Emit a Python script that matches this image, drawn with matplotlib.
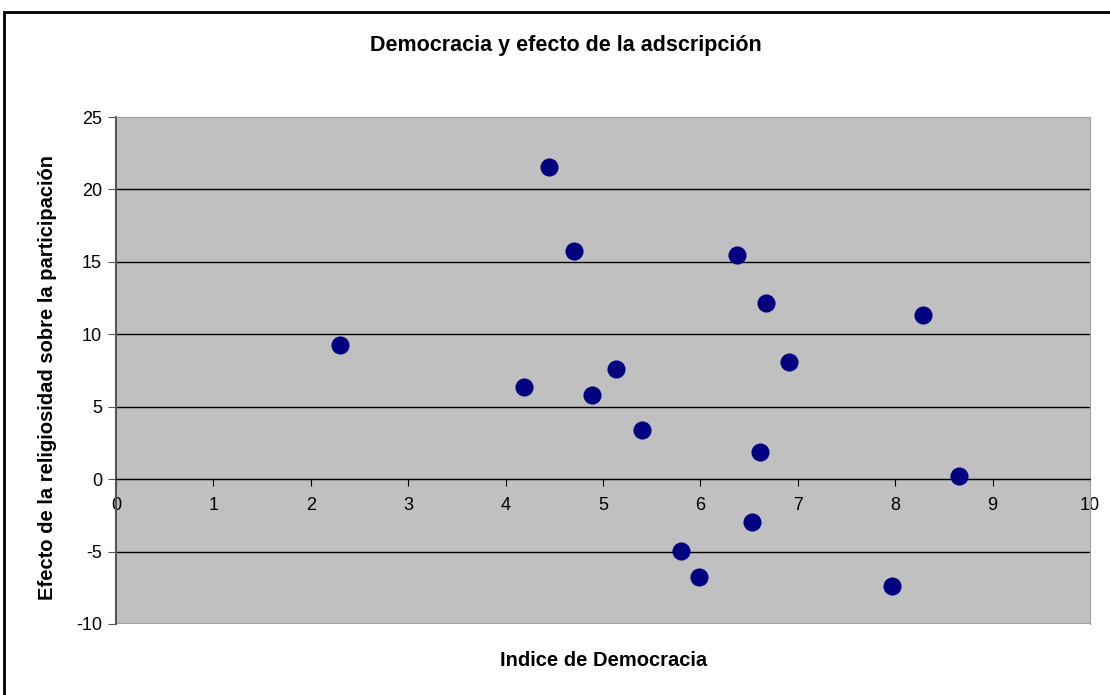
import matplotlib.pyplot as plt
from matplotlib.patches import Rectangle

# Indice de Democracia vs efecto de la religiosidad
democracia = [2.30, 4.19, 4.45, 4.70, 4.89, 5.13, 5.40, 5.80, 5.99,
              6.38, 6.53, 6.61, 6.67, 6.91, 7.97, 8.29, 8.65]
efecto = [9.25, 6.33, 21.58, 15.74, 5.82, 7.6, 3.40, -4.97, -6.75,
          15.48, -2.95, 1.86, 12.17, 8.12, -7.4, 11.3, 0.25]

x_ticks = list(range(0, 11))
y_ticks = [-10, -5, 0, 5, 10, 15, 20, 25]

plt.rcParams['font.family'] = ['Liberation Sans', 'DejaVu Sans']
plt.rcParams['axes.unicode_minus'] = False

fig = plt.figure(figsize=(11.1, 6.95), dpi=100)
ax = fig.add_axes([116 / 1110, 1 - 624 / 695, 974 / 1110, 507 / 695])

# outer chart border
fig.patches.append(Rectangle((4 / 1110, -0.01), 1.02, 1 - 12 / 695 + 0.01,
                             transform=fig.transFigure, fill=False,
                             edgecolor='black', linewidth=2))

ax.set_facecolor('#C0C0C0')
ax.set_xlim(0, 10)
ax.set_ylim(-10, 25)
ax.set_xticks(x_ticks)
ax.set_yticks(y_ticks)

# horizontal gridlines
for yv in y_ticks[1:-1]:
    ax.axhline(yv, color='black', linewidth=1, zorder=1)

ax.scatter(democracia, efecto, s=170, color='#000080', zorder=3, linewidths=0)

ax.spines['bottom'].set_position(('data', 0))
ax.spines['bottom'].set_color('black')
ax.spines['left'].set_color('#555555')
ax.spines['left'].set_linewidth(1.5)
ax.spines['top'].set_color('#A0A0A0')
ax.spines['right'].set_color('#A0A0A0')

# plot area bottom edge
ax.axhline(-10, color='#A0A0A0', linewidth=1.5, zorder=1)

ax.tick_params(axis='x', direction='out', length=5, pad=8, labelsize=13,
               color='black')
ax.tick_params(axis='y', direction='out', length=6, pad=4, labelsize=13,
               color='#555555')

fig.text(566 / 1110, 1 - 45 / 695, 'Democracia y efecto de la adscripción',
         ha='center', va='center', fontsize=15.5, fontweight='bold')
fig.text(604 / 1110, 1 - 660 / 695, 'Indice de Democracia',
         ha='center', va='center', fontsize=14.5, fontweight='bold')
fig.text(48 / 1110, 1 - 377 / 695, 'Efecto de la religiosidad sobre la participación',
         ha='center', va='center', rotation=90, fontsize=14.5, fontweight='bold')

plt.savefig('out.png', dpi=100)
